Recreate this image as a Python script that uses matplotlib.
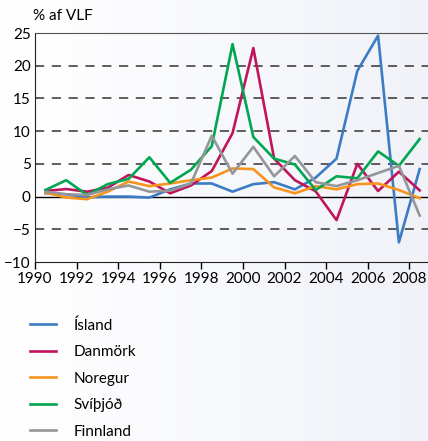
import numpy as np
import matplotlib.pyplot as plt

years = np.arange(1990, 2009) + 0.5

island = [0.5, 0.35, -0.1, 0.0, 0.0, -0.15, 1.1, 2.0, 2.0, 0.75, 1.9, 2.2, 1.1, 2.9, 5.8, 19.2, 24.6, -7.0, 4.2]
danmork = [0.85, 1.15, 0.75, 1.35, 3.3, 2.3, 0.5, 1.7, 3.9, 9.7, 22.7, 5.8, 2.5, 0.8, -3.6, 5.0, 0.85, 3.8, 0.95]
noregur = [0.6, -0.15, -0.4, 0.75, 2.3, 1.6, 2.0, 2.5, 2.9, 4.3, 4.2, 1.4, 0.5, 1.6, 1.1, 1.9, 2.0, 1.0, -0.25]
svithjod = [1.0, 2.5, 0.25, 1.9, 2.7, 6.0, 2.1, 4.1, 7.7, 23.3, 9.1, 5.8, 4.9, 1.0, 3.1, 2.8, 6.9, 4.7, 8.8]
finnland = [0.75, 0.35, 0.25, 1.1, 1.7, 0.75, 0.9, 2.0, 9.3, 3.5, 7.6, 3.1, 6.2, 2.2, 1.6, 2.5, 3.6, 4.7, -2.9]

names = ["Ísland", "Danmörk", "Noregur", "Svíþjóð", "Finnland"]
series = [island, danmork, noregur, svithjod, finnland]
colors = ["#3b7cc4", "#c0145c", "#f7941d", "#00a650", "#949699"]

plt.rcParams['font.family'] = ['Lato', 'DejaVu Sans']

fig = plt.figure(figsize=(4.28, 4.41), dpi=100)

# light gradient background
bg = fig.add_axes([0, 0, 1, 1], zorder=-10)
grad = np.linspace(0, 1, 256).reshape(1, -1)
bg.imshow(grad, aspect='auto', cmap=plt.matplotlib.colors.LinearSegmentedColormap.from_list(
    'bg', ['#ffffff', '#f8f9fc', '#f0f2f8']), extent=[0, 1, 0, 1])
bg.axis('off')

ax = fig.add_axes([35/428, 1 - 262/441, 1 - 35/428, 229/441])
ax.patch.set_alpha(0)

for y in [-5, 5, 10, 15, 20]:
    ax.axhline(y, color='#333333', lw=1.1, ls=(0, (6, 5)), zorder=1)
ax.axhline(0, color='black', lw=1.0, zorder=1)

for name, vals, c in zip(names, series, colors):
    ax.plot(years, vals, color=c, lw=1.9, label=name, zorder=3)

ax.set_xlim(1990, 2008.9)
ax.set_ylim(-10, 25)
ax.set_xticks(np.arange(1990, 2009, 2))
ax.set_yticks(np.arange(-10, 26, 5))
ax.tick_params(axis='x', length=5, width=1, direction='out', labelsize=11, pad=2)
ax.tick_params(axis='y', length=0, labelsize=11, pad=3)
ax.spines['right'].set_visible(False)
ax.spines['top'].set_color('#555555')
for s in ['left', 'bottom']:
    ax.spines[s].set_color('#222222')

fig.text(33/428, 1 - 16/441, "% af VLF", fontsize=11, va='center', ha='left')

ax.legend(loc='upper left', bbox_to_anchor=(30/428, 1 - 318/441), bbox_transform=fig.transFigure,
          frameon=False, fontsize=11, handlelength=1.7, handletextpad=1.15,
          labelspacing=0.82, borderpad=0, borderaxespad=0)

fig.savefig("out.png", dpi=100)
